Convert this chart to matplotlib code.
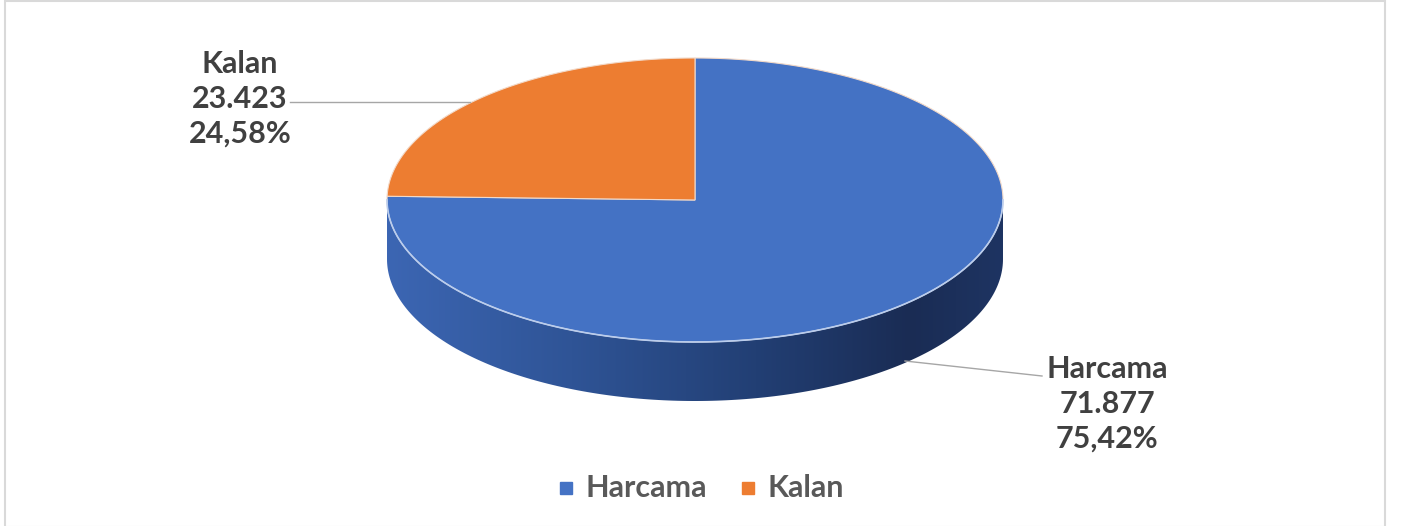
import numpy as np
import matplotlib.pyplot as plt
from matplotlib.patches import Polygon, Rectangle
from matplotlib.colors import LinearSegmentedColormap

# --- veriler ---
kategoriler = ['Harcama', 'Kalan']
tutarlar = [71877, 23423]
renkler = ['#4472c4', '#ed7d31']

toplam = sum(tutarlar)
oranlar = [t / toplam for t in tutarlar]


def tr_sayi(n):
    return f'{n:,}'.replace(',', '.')


def tr_yuzde(p):
    return f'{p * 100:.2f}%'.replace('.', ',')


plt.rcParams['font.family'] = ['Lato', 'DejaVu Sans']

fig = plt.figure(figsize=(14.11, 5.26), dpi=100)
ax = fig.add_axes([0, 0, 1, 1])
ax.set_xlim(0, 1411)
ax.set_ylim(526, 0)
ax.axis('off')

# grafik çerçevesi
ax.add_patch(Rectangle((5, 1), 1380, 526, fill=False, edgecolor='#d9d9d9', lw=1.5))

# 3B pasta geometrisi (piksel)
cx, cy = 695, 200
rx, ry = 308, 142
derinlik = 59


def elips(t1, t2, dy=0, n=200):
    t = np.radians(np.linspace(t1, t2, n))
    return np.column_stack([cx + rx * np.cos(t), cy + dy - ry * np.sin(t)])


# dilim açıları: saat 12'den saat yönünde
aci_h = 360 * oranlar[0]
h_bas, h_bit = 90 + 360 - aci_h, 90 + 360   # Harcama
k_bas, k_bit = 90, 90 + 360 * oranlar[1]    # Kalan
dilimler = [(h_bas, h_bit), (k_bas, k_bit)]

# yan yüzey (ön taraf, yalnızca Harcama görünür)
g1, g2 = max(180, h_bas), 360
yan = np.vstack([elips(g1, g2), elips(g2, g1, dy=derinlik)])
yan_poly = Polygon(yan, closed=True, facecolor='none', edgecolor='none')
ax.add_patch(yan_poly)
gecis = LinearSegmentedColormap.from_list(
    'yan', [(0, '#3c66b3'), (0.3, '#2f5496'), (0.6, '#223f74'),
            (0.85, '#1a2c54'), (1.0, '#1e3462')])
img = ax.imshow(np.linspace(0, 1, 256)[None, :], cmap=gecis, aspect='auto',
                extent=(cx - rx, cx + rx, cy + ry + derinlik + 2, cy - 5),
                zorder=2, interpolation='bilinear')
img.set_clip_path(yan_poly)

# üst yüzey dilimleri
for (t1, t2), renk in zip(dilimler, renkler):
    pts = np.vstack([[cx, cy], elips(t1, t2), [cx, cy]])
    ax.add_patch(Polygon(pts, closed=True, facecolor=renk,
                         edgecolor='#f2d9c8', lw=0.8, zorder=3))

# ön kenar parlaklığı
kenar = elips(180, 360)
ax.plot(kenar[:, 0], kenar[:, 1], color='#b9cdee', lw=1.2, zorder=4)

# veri etiketleri ve bağlantı çizgileri
yazi_renk = '#404040'
etiket_yer = {'Harcama': (1107, 404), 'Kalan': (240, 99)}
cizgiler = {'Harcama': [(905, 361), (1042, 376)], 'Kalan': [(290, 102), (470, 102)]}
for ad, deger, oran in zip(kategoriler, tutarlar, oranlar):
    x, y = etiket_yer[ad]
    ax.text(x, y, f'{ad}\n{tr_sayi(deger)}\n{tr_yuzde(oran)}', ha='center', va='center',
            fontsize=22, fontweight='bold', color=yazi_renk, linespacing=1.3, zorder=5)
    (x1, y1), (x2, y2) = cizgiler[ad]
    ax.plot([x1, x2], [y1, y2], color='#a6a6a6', lw=1, zorder=5)

# açıklama
leg_x = [560, 742]
for lx, ad, renk in zip(leg_x, kategoriler, renkler):
    ax.add_patch(Rectangle((lx, 482), 12, 12, color=renk, zorder=5))
    ax.text(lx + 25, 488, ad, ha='left', va='center', fontsize=22,
            fontweight='bold', color='#595959', zorder=5)

fig.savefig('out.png', dpi=100)
